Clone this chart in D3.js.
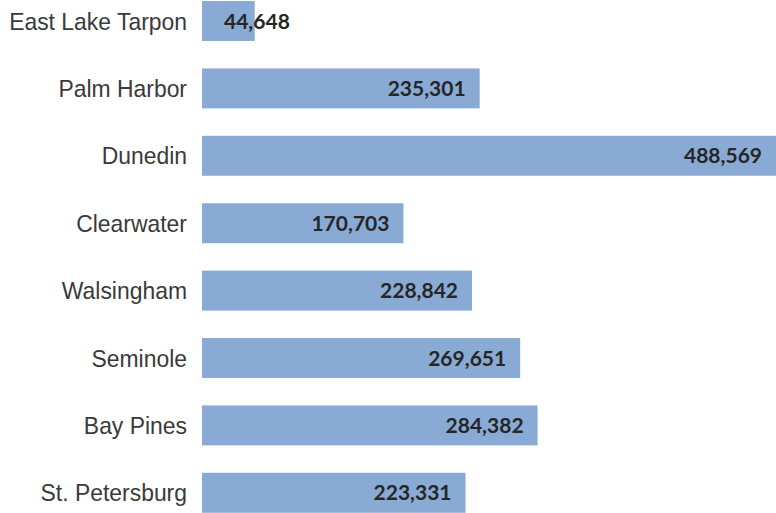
<!DOCTYPE html>
<html><head><meta charset="utf-8">
<script src="https://cdn.jsdelivr.net/npm/d3@7"></script>
<style>body{margin:0;background:#fff;overflow:hidden}</style>
</head><body>
<svg id="c" width="776" height="513"></svg>
<script>
const categories = ["East Lake Tarpon","Palm Harbor","Dunedin","Clearwater","Walsingham","Seminole","Bay Pines","St. Petersburg"];
const values = [44648,235301,488569,170703,228842,269651,284382,223331];

const svg = d3.select("#c");
const x0 = 202;
const x = d3.scaleLinear().domain([0, 100000]).range([x0, x0 + 118]);
const y = d3.scaleBand().domain(categories).range([-12.7, 526.5]).paddingInner(0.407).paddingOuter(0.2035);
const fmt = d3.format(",");

svg.selectAll("rect.bar").data(categories).join("rect")
  .attr("class","bar")
  .attr("x", x0)
  .attr("y", d => y(d))
  .attr("width", (d,i) => x(values[i]) - x0)
  .attr("height", y.bandwidth())
  .attr("fill", "#88aad5");

svg.selectAll("text.cat").data(categories).join("text")
  .attr("class","cat")
  .attr("transform", d => `translate(187,${y(d) + y.bandwidth()/2}) scale(0.955,1)`)
  .attr("dy", "0.36em")
  .attr("text-anchor","end")
  .attr("font-family","'Liberation Sans Narrow','Arial Narrow','Liberation Sans',sans-serif")
  .attr("font-size", 24)
  .attr("fill","#3a3a3a")
  .text(d => d);

const vl = svg.selectAll("text.val").data(categories).join("text")
  .attr("class","val")
  .attr("y", d => y(d) + y.bandwidth()/2)
  .attr("dy", "0.36em")
  .attr("text-anchor","end")
  .attr("font-family","Lato,'Open Sans',sans-serif")
  .attr("font-weight","bold")
  .attr("font-size", 21)
  .attr("fill","#262626")
  .text((d,i) => fmt(values[i]));
vl.each(function(d,i){
  const w = this.getComputedTextLength();
  const end = Math.min(x(values[i]), 776) - 14;
  this.setAttribute("x", Math.max(end, x0 + 22 + w));
});
</script>
</body></html>
